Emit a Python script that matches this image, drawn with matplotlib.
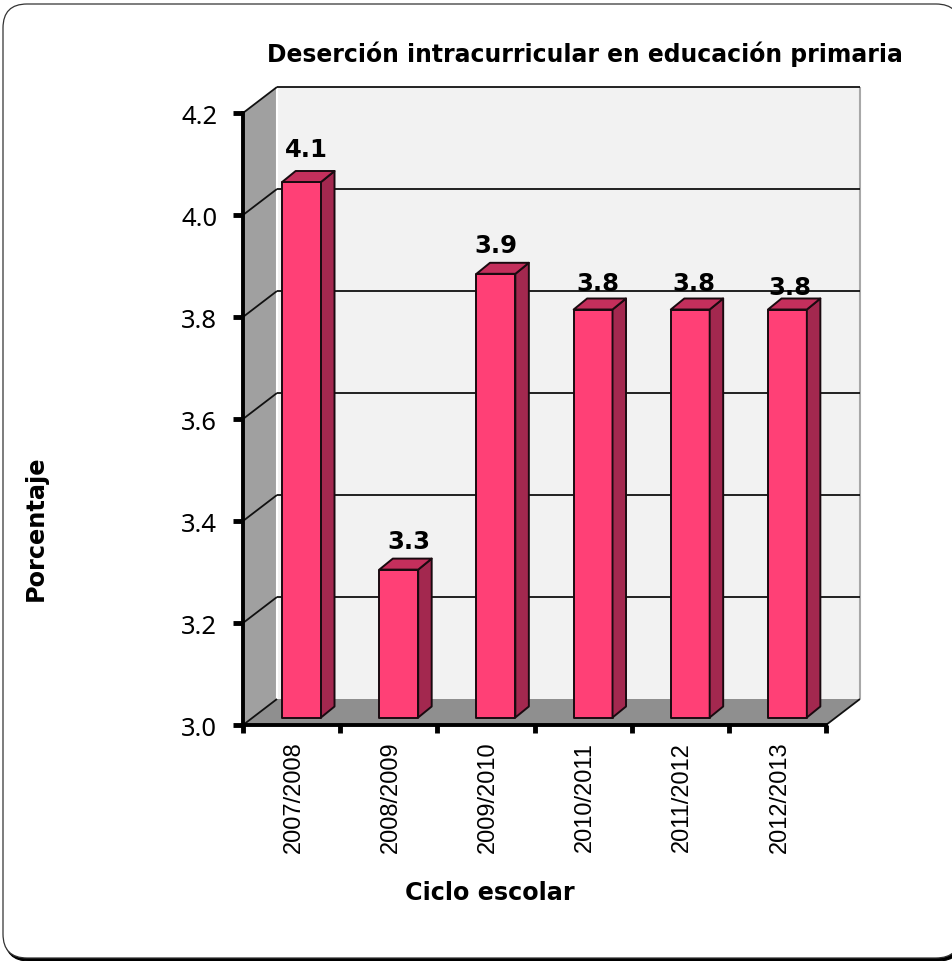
import matplotlib
matplotlib.use('Agg')
import matplotlib.pyplot as plt
from matplotlib.patches import FancyBboxPatch, Polygon
from matplotlib.transforms import Affine2D, IdentityTransform

ciclos = ['2007/2008', '2008/2009', '2009/2010', '2010/2011', '2011/2012', '2012/2013']
porcentaje = [4.05, 3.29, 3.87, 3.80, 3.80, 3.80]
etiquetas = ['4.1', '3.3', '3.9', '3.8', '3.8', '3.8']
y_ticks = [3.0, 3.2, 3.4, 3.6, 3.8, 4.0, 4.2]

W, H = 953, 961
fig = plt.figure(figsize=(W / 100, H / 100), dpi=100)
ax = fig.add_axes([243 / W, (H - 725) / H, 583 / W, 612 / H])
ax.set_xlim(-0.5, 5.5)
ax.set_ylim(3.0, 4.2)
ax.patch.set_visible(False)

# pixel offsets of the fake 3D box
wall_dx, wall_dy = 34, 26
bar_off_x, bar_off_y = 10, 7.5
bar_dx, bar_dy = 13.5, 11
bar_w = 0.40


def to_px(x, y, dx=0, dy=0):
    px, py = ax.transData.transform((x, y))
    return (px + dx, py + dy)


def face(points, **kw):
    ax.add_patch(Polygon(points, closed=True, transform=IdentityTransform(), clip_on=False, **kw))


def seg(p, q, **kw):
    ax.plot([p[0], q[0]], [p[1], q[1]], transform=IdentityTransform(), clip_on=False,
            solid_capstyle='butt', **kw)


# outer frame with a black shadow under it, it runs off the right edge
r = 24
fig.add_artist(FancyBboxPatch((3 + r + 2, 3 + r - 3), 957 - 2 * r, 954 - 2 * r,
                              boxstyle=f'round,pad={r},rounding_size={r}',
                              transform=IdentityTransform(), fc='black', ec='black', lw=0.8, zorder=-6))
fig.add_artist(FancyBboxPatch((3 + r, 3 + r), 957 - 2 * r, 954 - 2 * r,
                              boxstyle=f'round,pad={r},rounding_size={r}',
                              transform=IdentityTransform(), fc='white', ec='#333333', lw=0.9, zorder=-5))

xmin, xmax = -0.5, 5.5
# walls
face([to_px(xmin, 3.0), to_px(xmin, 4.2), to_px(xmin, 4.2, wall_dx, wall_dy), to_px(xmin, 3.0, wall_dx, wall_dy)],
     fc='#a0a0a0', ec='none', zorder=1)
face([to_px(xmin, 3.0, wall_dx, wall_dy), to_px(xmin, 4.2, wall_dx, wall_dy),
      to_px(xmax, 4.2, wall_dx, wall_dy), to_px(xmax, 3.0, wall_dx, wall_dy)],
     fc='#f2f2f2', ec='none', zorder=1)
face([to_px(xmin, 3.0), to_px(xmax, 3.0), to_px(xmax, 3.0, wall_dx, wall_dy), to_px(xmin, 3.0, wall_dx, wall_dy)],
     fc='#8f8f8f', ec='none', zorder=1.5)
seg(to_px(xmin, 3.0, wall_dx, wall_dy), to_px(xmin, 4.2, wall_dx, wall_dy), color='white', lw=1.5, zorder=1.4)
seg(to_px(xmax, 3.0, wall_dx, wall_dy), to_px(xmax, 4.2, wall_dx, wall_dy), color='#a8a8a8', lw=1.5, zorder=1.4)

# grid lines run along the side wall and the back wall
for v in y_ticks[1:]:
    seg(to_px(xmin, v), to_px(xmin, v, wall_dx, wall_dy), color='#111111', lw=1.3, zorder=2)
    seg(to_px(xmin, v, wall_dx, wall_dy), to_px(xmax, v, wall_dx, wall_dy), color='#111111', lw=1.3, zorder=2)
seg(to_px(xmin, 3.0), to_px(xmin, 3.0, wall_dx, wall_dy), color='#111111', lw=1.3, zorder=2)
seg(to_px(xmax, 3.0), to_px(xmax, 3.0, wall_dx, wall_dy), color='#111111', lw=1.3, zorder=2)

# bars
edge = dict(ec='#1a0a10', lw=1.4, joinstyle='round')
for i, v in enumerate(porcentaje):
    l, r_ = i - bar_w / 2, i + bar_w / 2
    bl = to_px(l, 3.0, bar_off_x, bar_off_y)
    br = to_px(r_, 3.0, bar_off_x, bar_off_y)
    tl = to_px(l, v, bar_off_x, bar_off_y)
    tr = to_px(r_, v, bar_off_x, bar_off_y)
    sh = lambda p: (p[0] + bar_dx, p[1] + bar_dy)
    face([bl, br, tr, tl], fc='#ff4076', zorder=3, **edge)
    face([br, sh(br), sh(tr), tr], fc='#a3284f', zorder=3, **edge)
    face([tl, tr, sh(tr), sh(tl)], fc='#c42f5c', zorder=3, **edge)

# value labels, nudged off the bar top as in the original
nudge_x = [5, 10, 0, 5, 4, 2]
nudge_y = [32, 28, 28, 26, 26, 22]
for i, v in enumerate(porcentaje):
    x0, y0 = to_px(i, v, bar_off_x, bar_off_y)
    ax.text(x0 + nudge_x[i], y0 + nudge_y[i], etiquetas[i], transform=IdentityTransform(),
            ha='center', va='center', fontsize=17.5, fontweight='bold', family='DejaVu Sans', zorder=6)

# axes
for s in ['top', 'right']:
    ax.spines[s].set_visible(False)
for s in ['left', 'bottom']:
    ax.spines[s].set_linewidth(2.8)
    ax.spines[s].set_zorder(4)
ax.set_yticks(y_ticks)
ax.set_yticklabels([f'{v:.1f}' for v in y_ticks], fontsize=18.4, family='Noto Sans', va='center')
ax.tick_params(axis='y', length=7, width=3.5, pad=11.5)
for lab in ax.get_yticklabels():
    lab.set_transform(lab.get_transform() + Affine2D().translate(0, -4))
ax.set_xticks([x - 0.5 for x in range(len(ciclos) + 1)])
ax.set_xticklabels([])
ax.tick_params(axis='x', length=6, width=3.5)
for i, c in enumerate(ciclos):
    ax.annotate(c, xy=(i, 3.0), xytext=(1.5, -12), textcoords='offset points', rotation=90,
                ha='center', va='top', fontsize=17, family='Liberation Sans')

fig.text(584.5 / W, (H - 54) / H, 'Deserción intracurricular en educación primaria', ha='center', va='center',
         fontsize=16.95, fontweight='bold', family='DejaVu Sans')
fig.text(490 / W, (H - 893) / H, 'Ciclo escolar', ha='center', va='center',
         fontsize=17.2, fontweight='bold', family='DejaVu Sans')
fig.text(36 / W, (H - 528) / H, 'Porcentaje', rotation=90, ha='center', va='center',
         fontsize=17.3, fontweight='bold', family='DejaVu Sans')

fig.savefig('out.png', dpi=100)
